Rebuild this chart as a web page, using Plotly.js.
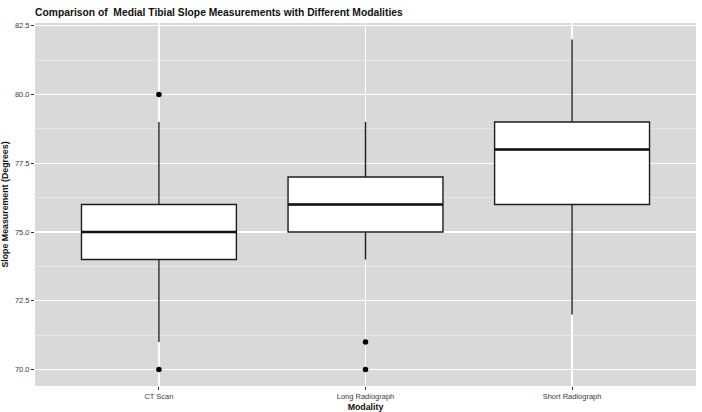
<!DOCTYPE html>
<html>
<head>
<meta charset="utf-8">
<script src="https://cdn.plot.ly/plotly-3.0.1.min.js"></script>
<style>html,body{margin:0;padding:0;background:#fff;}#chart{width:702px;height:412px;}</style>
</head>
<body>
<div id="chart"></div>
<script>
// Data
const categories = ["CT Scan", "Long Radiograph", "Short Radiograph"];
const q1 = [74, 75, 76];
const median = [75, 76, 78];
const q3 = [76, 77, 79];
const lowerWhisker = [71, 74, 72];
const upperWhisker = [79, 79, 82];
const outlierCategory = ["CT Scan", "CT Scan", "Long Radiograph", "Long Radiograph"];
const outlierValue = [80, 70, 71, 70];
const yTicks = [70, 72.5, 75, 77.5, 80, 82.5];
const yMinorTicks = [71.25, 73.75, 76.25, 78.75, 81.25];

const idx = categories.map((c, i) => i);
const boxWidth = 0.75;

const traces = [];
traces.push({
  type: 'box',
  x: idx,
  q1: q1, median: median, q3: q3,
  lowerfence: lowerWhisker, upperfence: upperWhisker,
  width: boxWidth,
  whiskerwidth: 0,
  fillcolor: '#FFFFFF',
  line: {color: '#1E1E1E', width: 1.4},
  boxpoints: false,
  hoverinfo: 'skip',
  showlegend: false
});
// thicker median lines (ggplot fatten)
const mx = [], my = [];
idx.forEach((i, k) => { mx.push(i - boxWidth/2, i + boxWidth/2, null); my.push(median[k], median[k], null); });
traces.push({
  type: 'scatter', mode: 'lines', x: mx, y: my,
  line: {color: '#111111', width: 2.6},
  hoverinfo: 'skip', showlegend: false
});
traces.push({
  type: 'scatter', mode: 'markers',
  x: outlierCategory.map(c => categories.indexOf(c)),
  y: outlierValue,
  marker: {color: '#000000', size: 5.5},
  hoverinfo: 'skip', showlegend: false
});

const layout = {
  width: 702, height: 412,
  paper_bgcolor: '#FFFFFF',
  plot_bgcolor: '#D9D9D9',
  margin: {l: 35, r: 6, t: 23, b: 26},
  font: {family: 'Liberation Sans, Arial, sans-serif', color: '#000'},
  title: {
    text: '<b>Comparison of  Medial Tibial Slope Measurements with Different Modalities</b>',
    font: {size: 10.3, color: '#111'},
    xref: 'container', x: 35/702, xanchor: 'left',
    yref: 'container', y: 1 - 12/412, yanchor: 'middle'
  },
  xaxis: {
    range: [-0.6, 2.6],
    tickvals: idx, ticktext: categories,
    showgrid: true, gridcolor: '#FFFFFF', gridwidth: 1.2,
    zeroline: false, showline: false,
    ticks: 'outside', ticklen: 3, tickwidth: 1, tickcolor: '#333333',
    tickfont: {size: 7.5, color: '#3A3A3A'},
    title: {text: '<b>Modality</b>', font: {size: 8.8, color: '#111'}, standoff: 4}
  },
  yaxis: {
    range: [69.4, 82.6],
    tickvals: yTicks, ticktext: yTicks.map(v => v.toFixed(1)),
    showgrid: true, gridcolor: '#FFFFFF', gridwidth: 1.2,
    minor: {tickvals: yMinorTicks, showgrid: true, gridcolor: '#F2F2F2', gridwidth: 0.6, ticks: ''},
    zeroline: false, showline: false,
    ticks: 'outside', ticklen: 3, tickwidth: 1, tickcolor: '#333333',
    tickfont: {size: 7.5, color: '#3A3A3A'},
    title: {text: '<b>Slope Measurement (Degrees)</b>', font: {size: 8.8, color: '#111'}, standoff: 4}
  }
};

Plotly.newPlot('chart', traces, layout, {displayModeBar: false, staticPlot: true});
</script>
</body>
</html>
